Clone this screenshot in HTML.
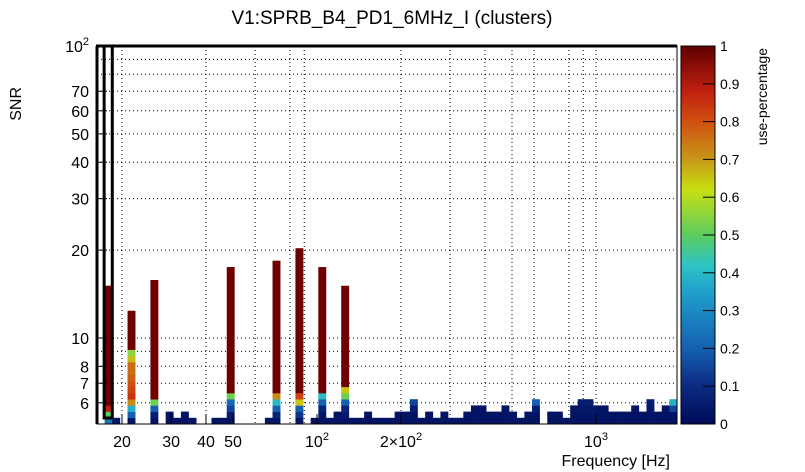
<!DOCTYPE html>
<html><head><meta charset="utf-8">
<style>
html,body{margin:0;padding:0;background:#fff;}
svg{display:block;font-family:"Liberation Sans",Arial,sans-serif;}
</style></head>
<body>
<svg id="chart" width="805" height="472" viewBox="0 0 805 472">
  <defs>
    <linearGradient id="pal" x1="0" y1="1" x2="0" y2="0">
      <stop offset="0" stop-color="#000a5a"/>
      <stop offset="0.1" stop-color="#0c2a80"/>
      <stop offset="0.2" stop-color="#1560b0"/>
      <stop offset="0.35" stop-color="#20a0cc"/>
      <stop offset="0.42" stop-color="#2ec4c4"/>
      <stop offset="0.5" stop-color="#5ccc60"/>
      <stop offset="0.62" stop-color="#c8e010"/>
      <stop offset="0.7" stop-color="#c89818"/>
      <stop offset="0.8" stop-color="#d05010"/>
      <stop offset="0.88" stop-color="#c02010"/>
      <stop offset="1" stop-color="#600000"/>
    </linearGradient>
  </defs>
  <rect x="0" y="0" width="805" height="472" fill="#fff"/>
  <text x="392" y="24" font-size="19" text-anchor="middle">V1:SPRB_B4_PD1_6MHz_I (clusters)</text>
  <g id="grid"></g>
  <g id="bars"></g>
  <g id="axes"></g>
  <text x="0" y="0" font-size="16" text-anchor="end" transform="translate(21,87) rotate(-90)">SNR</text>
  <text x="670" y="466" font-size="16" text-anchor="end">Frequency [Hz]</text>
  <rect x="681" y="46" width="34" height="378" fill="url(#pal)"/>
  <rect x="681" y="46" width="34" height="378" fill="none" stroke="#000" stroke-width="1"/>
  <g id="zaxis"></g>
  <text x="0" y="0" font-size="14" text-anchor="end" transform="translate(767,48) rotate(-90)">use-percentage</text>
</svg>
<script>
// ---- data ----
var peaks = {1:15.1, 4:12.4, 7:15.8, 17:17.5, 23:18.4, 26:20.3, 29:17.5, 32:15.1};
var cells = [
 [], [0.25,0.5,0.88], [0.03], [],
 [0.03,0.2,0.38,0.72,0.85,0.82,0.8,0.78,0.76,0.76,0.66,0.55],
 [], [], [0.03,0.06,0.2,0.52], [],
 [0.03,0.03], [0.03], [0.03,0.03], [0.03], [], [],
 [0.03], [0.03], [0.03,0.06,0.15,0.22,0.52], [], [], [], [],
 [0.03], [0.03,0.08,0.2,0.4,0.72], [], [], [0.03,0.12,0.2,0.65,0.82], [],
 [0.03], [0.03,0.04,0.08,0.2,0.4], [0.03], [0.03,0.03], [0.03,0.05,0.08,0.2,0.52,0.65],
 [0.03], [0.03], [0.03,0.03], [0.03], [0.03], [0.03], [0.03,0.03], [0.03,0.03],
 [0.03,0.03,0.06,0.15], [0.03], [0.03,0.03], [0.03], [0.03,0.03], [0.03], [0.03],
 [0.03,0.03], [0.03,0.03,0.03], [0.03,0.03,0.03], [0.03,0.03], [0.03,0.03],
 [0.03,0.03,0.03], [0.03,0.03], [0.03], [0.03,0.03], [0.03,0.03,0.06,0.2], [],
 [0.03,0.03], [0.03,0.03], [0.03], [0.03,0.03,0.03], [0.03,0.03,0.04,0.06],
 [0.03,0.03,0.04,0.06], [0.03,0.03,0.03], [0.03,0.03,0.03], [0.03,0.03], [0.03,0.03],
 [0.03,0.03], [0.03,0.03,0.03], [0.03,0.03], [0.03,0.03,0.04,0.06], [0.03,0.03],
 [0.03,0.03,0.03], [0.03,0.03,0.15,0.38]
];
var yTickVals = [6,7,8,10,20,30,40,50,60,70,100];
var yTickLabels = ["6","7","8","10","20","30","40","50","60","70","10^2"];
var xTickVals = [20,30,40,50,100,200,1000];
var xTickLabels = ["20","30","40","50","10^2","2×10^2","10^3"];
var zTickVals = [0,0.1,0.2,0.3,0.4,0.5,0.6,0.7,0.8,0.9,1];
var xGridVals = [20,40,60,80,90,200,300,400,500,600,800,900,1000];
var yGridVals = [6,7,8,9,10,20,30,40,50,60,70,80,90];

// ---- scales ----
var X0=97, X1=677, Y0=46, Y1=424;
var PXDEC_X = 279, PXDEC_Y = 292;
function xs(f){ return 317 + (Math.log10(f)-2)*PXDEC_X; }
function ys(v){ return 338 - (Math.log10(v)-1)*PXDEC_Y; }
var xLogMin = 2 - (317-X0)/PXDEC_X, xLogMax = 2 + (X1-317)/PXDEC_X;
var nBins = 76, binLogW = (xLogMax-xLogMin)/nBins;
var yLogMin = 1 - (Y1-338)/PXDEC_Y, cellLogH = 0.02123;
function binEdge(i){ return Math.pow(10, xLogMin + i*binLogW); }
function cellEdge(k){ return Math.pow(10, yLogMin + k*cellLogH); }

var stops=[[0,[0,10,90]],[0.1,[12,42,128]],[0.2,[21,96,176]],[0.35,[32,160,204]],[0.42,[46,196,196]],[0.5,[92,204,96]],[0.62,[200,224,16]],[0.7,[200,152,24]],[0.8,[208,80,16]],[0.88,[192,32,16]],[1,[110,0,0]]];
function color(v){
  for(var i=1;i<stops.length;i++){ if(v<=stops[i][0]){ var a=stops[i-1],b=stops[i],t=(v-a[0])/(b[0]-a[0]);
    return 'rgb('+[0,1,2].map(function(j){return Math.round(a[1][j]+(b[1][j]-a[1][j])*t);}).join(',')+')'; } }
  return 'rgb(110,0,0)';
}
var NS='http://www.w3.org/2000/svg';
function mk(tag,attrs,parent){ var e=document.createElementNS(NS,tag); for(var k in attrs) e.setAttribute(k,attrs[k]); parent.appendChild(e); return e; }

// grid
var grid=document.getElementById('grid');
xGridVals.forEach(function(f){
  var l=mk('line',{x1:xs(f),x2:xs(f),y1:Y0,y2:Y1,stroke:'#000','stroke-width':1,'stroke-dasharray':'1,3'},grid);
  
  
});
yGridVals.forEach(function(v){
  var l=mk('line',{x1:X0,x2:X1,y1:ys(v),y2:ys(v),stroke:'#000','stroke-width':1,'stroke-dasharray':'1,3'},grid);
  
  
});

// bars
var bars=document.getElementById('bars');
cells.forEach(function(col,i){
  var xa=xs(binEdge(i)), xb=xs(binEdge(i+1));
  col.forEach(function(v,k){
    var ya=ys(cellEdge(k+1)), yb=ys(cellEdge(k));
    var r=mk('rect',{x:xa,y:ya,width:xb-xa+0.3,height:yb-ya+0.3,fill:color(v)},bars);
    
    
  });
  if(peaks[i]!==undefined){
    var yb=ys(cellEdge(col.length)), ya=ys(peaks[i]);
    var r=mk('rect',{x:xa,y:ya,width:xb-xa+0.3,height:yb-ya+0.3,fill:color(1)},bars);
    
    
  }
});

// axes
var ax=document.getElementById('axes');
mk('rect',{x:X0,y:Y0,width:X1-X0,height:Y1-Y0,fill:'none',stroke:'#000','stroke-width':1},ax);
mk('line',{x1:X0-1,x2:X1,y1:Y0,y2:Y0,stroke:'#000','stroke-width':3},ax);
mk('line',{x1:X0,x2:X0,y1:Y0,y2:Y1,stroke:'#000','stroke-width':3},ax);
var hb=mk('rect',{x:xs(binEdge(1))-0.5,y:Y0,width:xs(binEdge(2))-xs(binEdge(1))+0.5,height:418-Y0,fill:'none',stroke:'#000','stroke-width':3},ax);


function supLabel(parent,x,y,lab,anchor){
  var t=mk('text',{x:x,y:y,'font-size':16,'text-anchor':anchor},parent);
  var p=lab.split('^');
  t.appendChild(document.createTextNode(p[0]));
  if(p[1]){ var s=mk('tspan',{'font-size':11,dy:-7},t); s.textContent=p[1]; }
  return t;
}
yTickVals.forEach(function(v,i){
  var y=ys(v);
  mk('line',{x1:X0,x2:X0+10,y1:y,y2:y,stroke:'#000','stroke-width':1},ax);
  var t=supLabel(ax,89,y+6,yTickLabels[i],'end');
  
  
});
xTickVals.forEach(function(f,i){
  var x=xs(f);
  mk('line',{x1:x,x2:x,y1:Y1,y2:Y1-10,stroke:'#000','stroke-width':1},ax);
  var t=supLabel(ax,x,447,xTickLabels[i],'middle');
  
  
});
var za=document.getElementById('zaxis');
zTickVals.forEach(function(v){
  var y=424-v*378;
  mk('line',{x1:703,x2:715,y1:y,y2:y,stroke:'#000','stroke-width':1},za);
  var t=mk('text',{x:720,y:y+5,'font-size':14},za);
  t.textContent=String(v);
  
  
});
</script>
</body></html>
